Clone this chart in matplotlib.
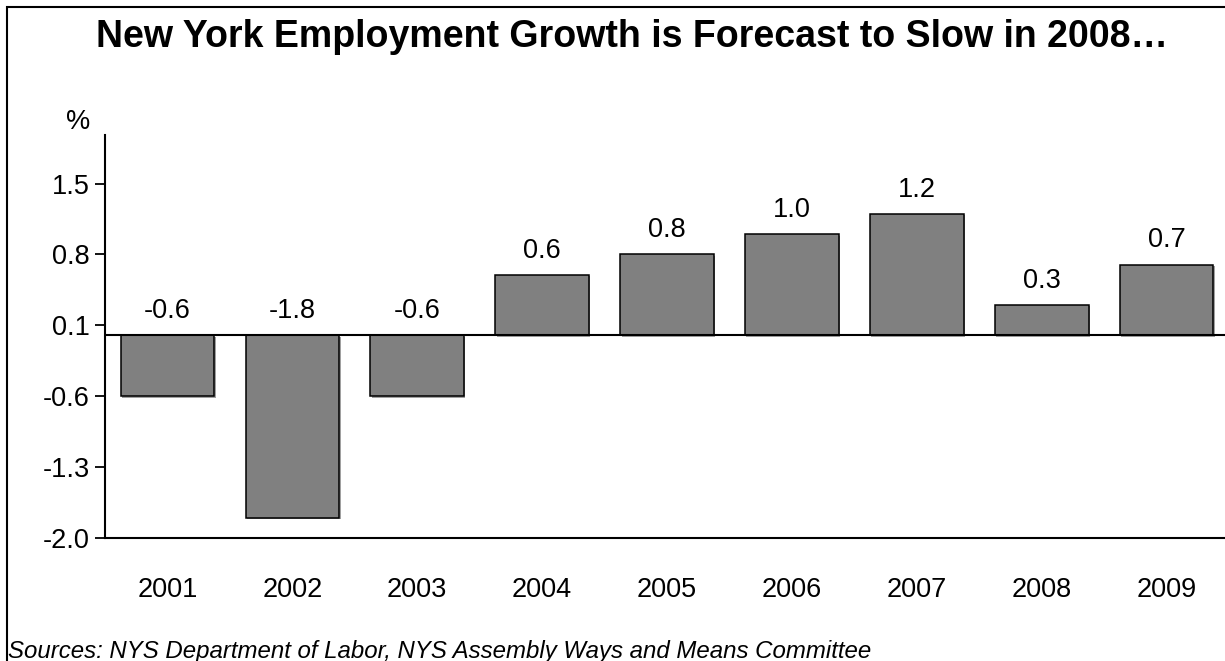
import matplotlib
matplotlib.use("Agg")
import matplotlib.pyplot as plt
import matplotlib.patheffects as pe
from matplotlib.patches import Rectangle

plt.rcParams['font.family'] = ['Liberation Sans', 'DejaVu Sans']

# 年度就业增长 (%)
years = ['2001', '2002', '2003', '2004', '2005', '2006', '2007', '2008', '2009']
growth = [-0.6, -1.8, -0.6, 0.6, 0.8, 1.0, 1.2, 0.3, 0.7]
y_ticks = [-2.0, -1.3, -0.6, 0.1, 0.8, 1.5]

W, H = 1225, 661
fig = plt.figure(figsize=(W / 100, H / 100), dpi=100)
ax = fig.add_axes([105 / W, (H - 538) / H, 1124 / W, 403 / H])

x = range(len(years))
bars = ax.bar(x, growth, width=0.75, color='#808080', edgecolor='black', linewidth=1.1,
              zorder=3)
for b in bars:
    b.set_path_effects([pe.SimplePatchShadow(offset=(1, -1), shadow_rgbFace='#a0a0a0', alpha=1),
                        pe.Normal()])

# 数值标签: 负值也写在零线上方
for i, v in enumerate(growth):
    ax.annotate(f'{v:.1f}', (i, max(v, 0)), xytext=(0, 8), textcoords='offset points',
                ha='center', va='bottom', fontsize=19.5)

ax.axhline(0, color='black', linewidth=1.5, zorder=4)
ax.set_xlim(-0.5, 8.5)
ax.set_ylim(-2.0, 1.98)
ax.set_yticks(y_ticks)
ax.set_yticklabels([f'{t:.1f}' for t in y_ticks], fontsize=19.5)
ax.set_xticks(list(x))
ax.set_xticklabels(years, fontsize=19.5)
ax.tick_params(axis='y', length=7, width=1.3, pad=4)
ax.tick_params(axis='x', length=0, pad=28)
for s in ['top', 'right']:
    ax.spines[s].set_visible(False)
for s in ['left', 'bottom']:
    ax.spines[s].set_linewidth(1.5)

fig.text(78 / W, 1 - 122 / H, '%', ha='center', va='center', fontsize=19.5)
fig.text(632 / W, 1 - 37 / H, 'New York Employment Growth is Forecast to Slow in 2008…',
         ha='center', va='center', fontsize=27, fontweight='bold')
fig.text(8 / W, 1 - 658 / H, 'Sources: NYS Department of Labor, NYS Assembly Ways and Means Committee',
         ha='left', va='baseline', fontsize=17.3, style='italic')

# 外框
fig.patches.append(Rectangle((7 / W, -0.1), 1.2, 1 - 7 / H + 0.1, transform=fig.transFigure,
                             fill=False, edgecolor='black', linewidth=1.5))

fig.savefig('out.png', dpi=100)
